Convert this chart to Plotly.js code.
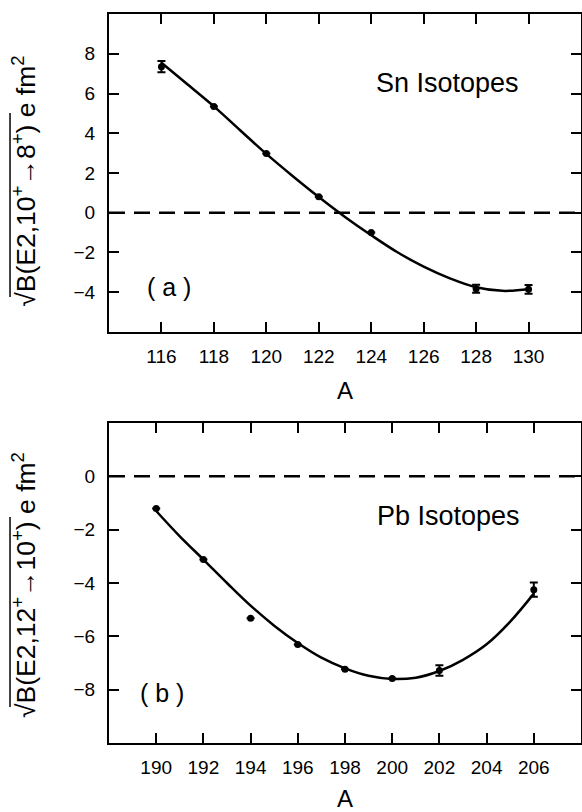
<!DOCTYPE html>
<html>
<head>
<meta charset="utf-8">
<script src="https://cdn.plot.ly/plotly-3.0.1.min.js"></script>
<style>html,body{margin:0;padding:0;background:#fff;}#chart{width:582px;height:812px;}</style>
</head>
<body>
<div id="chart"></div>
<script>
// Panel (a): Sn isotopes
const snA = [116, 118, 120, 122, 124, 128, 130];
const snVal = [7.35, 5.35, 2.98, 0.8, -1.0, -3.82, -3.85];
const snErr = [0.28, null, null, null, null, 0.2, 0.22];
const snFitA = [116, 117, 118, 119, 120, 121, 122, 123, 124, 125, 126, 127, 128, 129, 130];
const snFit = [7.55, 6.45, 5.35, 4.15, 2.96, 1.85, 0.79, -0.21, -1.13, -1.99, -2.71, -3.3, -3.75, -3.93, -3.85];
const snTicksX = [116, 118, 120, 122, 124, 126, 128, 130];
const snTicksY = [-4, -2, 0, 2, 4, 6, 8];

// Panel (b): Pb isotopes
const pbA = [190, 192, 194, 196, 198, 200, 202, 206];
const pbVal = [-1.21, -3.12, -5.32, -6.31, -7.23, -7.58, -7.28, -4.25];
const pbErr = [null, null, null, null, null, null, 0.2, 0.27];
const pbFitA = [190, 191, 192, 193, 194, 195, 196, 197, 198, 199, 200, 201, 202, 203, 204, 205, 206];
const pbFit = [-1.3, -2.25, -3.12, -4.0, -4.85, -5.6, -6.25, -6.8, -7.2, -7.48, -7.6, -7.55, -7.3, -6.88, -6.3, -5.45, -4.4];
const pbTicksX = [190, 192, 194, 196, 198, 200, 202, 204, 206];
const pbTicksY = [-8, -6, -4, -2, 0];

const FONT = "Liberation Sans, Arial, Helvetica, sans-serif";

function fitTrace(x, y, xa, ya) {
  return {x: x, y: y, xaxis: xa, yaxis: ya, mode: 'lines', type: 'scatter',
    line: {color: '#000', width: 2.5, shape: 'spline', smoothing: 1}, hoverinfo: 'skip', showlegend: false};
}
function ptTrace(x, y, e, xa, ya) {
  return {x: x, y: y, xaxis: xa, yaxis: ya, mode: 'markers', type: 'scatter',
    marker: {color: '#000', size: 7},
    error_y: {type: 'data', array: e, visible: true, color: '#000', thickness: 2, width: 4},
    showlegend: false};
}

const data = [
  fitTrace(snFitA, snFit, 'x', 'y'),
  ptTrace(snA, snVal, snErr, 'x', 'y'),
  fitTrace(pbFitA, pbFit, 'x2', 'y2'),
  ptTrace(pbA, pbVal, pbErr, 'x2', 'y2')
];

const axCommon = {
  showline: true, linecolor: '#000', linewidth: 2, mirror: 'ticks',
  ticks: 'inside', ticklen: 10, tickwidth: 2, tickcolor: '#000',
  showgrid: false, zeroline: false,
  tickfont: {family: FONT, size: 19, color: '#000'}
};

const ytitleText = (a, b) => '√B(E2,' + a + '<sup>+</sup>→' + b + '<sup>+</sup>) e fm<sup>2</sup>';
const xtitle = {text: 'A', font: {family: FONT, size: 24, color: '#000'}, standoff: 16};

const layout = {
  width: 582, height: 812,
  margin: {l: 109, r: 1, t: 14, b: 69},
  paper_bgcolor: '#fff', plot_bgcolor: '#fff',
  font: {family: FONT, color: '#000'},
  showlegend: false,
  xaxis: Object.assign({}, axCommon, {domain: [0, 1], anchor: 'y', range: [114, 132],
    tickmode: 'array', tickvals: snTicksX, ticklabelstandoff: 6, title: xtitle}),
  yaxis: Object.assign({}, axCommon, {domain: [0.5638, 1], anchor: 'x', range: [-6, 10],
    tickmode: 'array', tickvals: snTicksY, ticklabelstandoff: 8}),
  xaxis2: Object.assign({}, axCommon, {domain: [0, 1], anchor: 'y2', range: [188, 208],
    tickmode: 'array', tickvals: pbTicksX, ticklabelstandoff: 6, title: xtitle}),
  yaxis2: Object.assign({}, axCommon, {domain: [0, 0.439], anchor: 'x2', range: [-10, 2],
    tickmode: 'array', tickvals: pbTicksY, ticklabelstandoff: 8}),
  shapes: [
    {type: 'line', xref: 'x domain', yref: 'y', x0: 0, x1: 1, y0: 0, y1: 0,
      line: {color: '#000', width: 2.5, dash: '16px,9px'}},
    {type: 'line', xref: 'x2 domain', yref: 'y2', x0: 0, x1: 1, y0: 0, y1: 0,
      line: {color: '#000', width: 2.5, dash: '16px,9px'}},
    // overlines of the square-root signs in the y titles
    {type: 'line', xref: 'paper', yref: 'paper', x0: -0.2097, x1: -0.2097, y0: 0.8642, y1: 0.6118,
      line: {color: '#000', width: 1.5}},
    {type: 'line', xref: 'paper', yref: 'paper', x0: -0.2097, x1: -0.2097, y0: 0.31, y1: 0.0494,
      line: {color: '#000', width: 1.5}}
  ],
  annotations: [
    {text: ytitleText('10', '8'), xref: 'paper', yref: 'paper', x: -0.180, y: 0.770,
      xanchor: 'center', yanchor: 'middle', textangle: -90, showarrow: false,
      font: {family: FONT, size: 26.5, color: '#000'}},
    {text: ytitleText('12', '10'), xref: 'paper', yref: 'paper', x: -0.180, y: 0.2167,
      xanchor: 'center', yanchor: 'middle', textangle: -90, showarrow: false,
      font: {family: FONT, size: 26.5, color: '#000'}},
    {text: 'Sn Isotopes', xref: 'paper', yref: 'paper', x: 0.718, y: 0.905, xanchor: 'center', yanchor: 'middle',
      showarrow: false, font: {family: FONT, size: 27, color: '#000'}},
    {text: '( a )', xref: 'paper', yref: 'paper', x: 0.127, y: 0.625, xanchor: 'center', yanchor: 'middle',
      showarrow: false, font: {family: FONT, size: 25, color: '#000'}},
    {text: 'Pb Isotopes', xref: 'paper', yref: 'paper', x: 0.719, y: 0.311, xanchor: 'center', yanchor: 'middle',
      showarrow: false, font: {family: FONT, size: 27, color: '#000'}},
    {text: '( b )', xref: 'paper', yref: 'paper', x: 0.112, y: 0.068, xanchor: 'center', yanchor: 'middle',
      showarrow: false, font: {family: FONT, size: 25, color: '#000'}}
  ]
};

Plotly.newPlot('chart', data, layout, {displayModeBar: false, staticPlot: true});
</script>
</body>
</html>
